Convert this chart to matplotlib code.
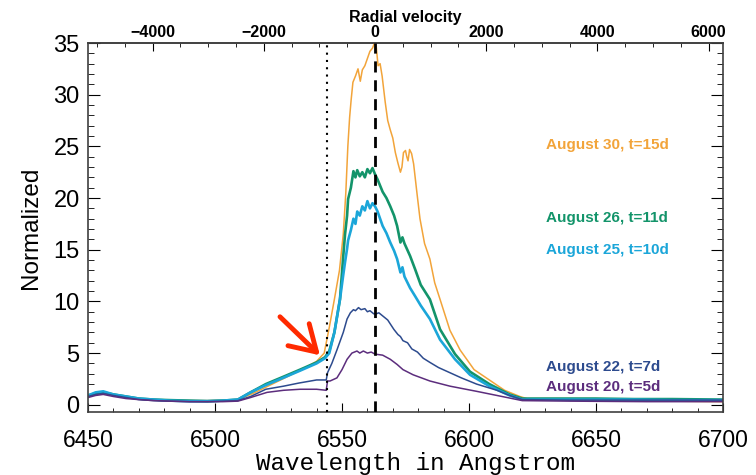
import numpy as np
import matplotlib.pyplot as plt
from matplotlib.ticker import MultipleLocator

C_KMS = 299792.458
HALPHA = 6563.0

# wavelength (Angstrom) and normalized flux
wl_aug30 = [6450, 6453, 6456, 6460, 6465, 6470, 6476, 6482, 6490, 6497, 6503, 6509,
            6512, 6515, 6520, 6525, 6530, 6535, 6540, 6543, 6545, 6547, 6549, 6550.5,
            6551.5, 6552.3, 6553, 6553.6, 6554.3, 6555.3, 6556.3, 6557.2, 6558, 6559,
            6560, 6561, 6562, 6562.8, 6563.5, 6564.2, 6565, 6565.8, 6567, 6568, 6569,
            6570, 6571, 6572, 6573, 6573.6, 6574.2, 6575, 6575.5, 6576, 6576.6, 6577.4,
            6578.2, 6579.5, 6580.7, 6582.5, 6584.6, 6586.5, 6588.6, 6592.5, 6596.5,
            6602, 6608, 6614, 6620, 6624, 6635, 6650, 6665, 6680, 6700]
fl_aug30 = [0.8, 1.0, 1.1, 1.0, 0.8, 0.6, 0.5, 0.45, 0.4, 0.4, 0.45, 0.5,
            0.8, 1.1, 1.7, 2.3, 2.9, 3.5, 4.2, 5.0, 7.5, 10.2, 13.0, 16.5,
            20.5, 25.0, 27.8, 29.5, 31.2, 31.8, 32.5, 31.3, 32.4, 32.8,
            33.5, 34.2, 34.5, 35.0, 34.6, 32.8, 33.0, 31.8, 29.3, 27.5, 26.6,
            25.8, 24.4, 23.4, 22.5, 23.0, 24.4, 24.6, 24.0, 23.6, 24.7, 24.3,
            23.3, 20.5, 18.0, 15.6, 14.1, 11.8, 10.2, 7.2, 5.3,
            3.4, 2.4, 1.4, 0.8, 0.5, 0.45, 0.4, 0.4, 0.35, 0.3]

wl_aug26 = [6450, 6453, 6456, 6460, 6465, 6470, 6476, 6482, 6490, 6497, 6503, 6509,
            6514, 6520, 6526.8, 6533.5, 6540, 6543.3, 6545, 6547, 6549.2, 6550.4,
            6551.2, 6552, 6552.4, 6553.5, 6554.5, 6555.3, 6556, 6557, 6558, 6559,
            6560, 6561, 6562, 6563, 6564, 6566, 6567.5, 6569, 6570.5, 6571.7, 6573,
            6573.8, 6574.6, 6576.8, 6578.8, 6581, 6584.6, 6588.6, 6594.5, 6600.4,
            6608, 6616, 6621, 6635, 6650, 6665, 6680, 6700]
fl_aug26 = [0.9, 1.1, 1.2, 1.0, 0.8, 0.6, 0.5, 0.45, 0.4, 0.35, 0.4, 0.5,
            1.2, 2.0, 2.7, 3.4, 4.1, 4.6, 5.2, 7.0, 10.2, 14.1,
            16.5, 18.3, 19.9, 21.0, 22.6, 22.0, 22.7, 22.1, 22.5, 22.0,
            22.8, 22.4, 22.9, 22.3, 21.8, 20.6, 20.0, 19.2, 18.3, 17.3, 15.7,
            16.2, 15.6, 14.4, 13.1, 11.6, 10.2, 7.3, 4.9, 3.2,
            2.0, 1.0, 0.6, 0.6, 0.6, 0.55, 0.55, 0.5]

wl_aug25 = wl_aug26
fl_aug25 = [0.9, 1.2, 1.3, 1.0, 0.8, 0.6, 0.5, 0.4, 0.35, 0.35, 0.4, 0.5,
            1.2, 1.9, 2.6, 3.3, 4.0, 4.5, 5.0, 7.0, 10.2, 12.4,
            13.8, 15.1, 15.9, 16.9, 18.0, 17.5, 18.7, 18.3, 19.2, 18.8,
            19.7, 19.0, 19.5, 19.2, 18.7, 17.3, 16.6, 15.7, 14.9, 14.1, 12.8,
            13.3, 12.4, 11.3, 10.5, 9.6, 8.3, 6.3, 4.4, 2.9,
            1.8, 0.9, 0.5, 0.5, 0.5, 0.5, 0.45, 0.45]

wl_aug22 = [6450, 6453, 6456, 6460, 6465, 6470, 6476, 6482, 6490, 6497, 6503, 6509,
            6514, 6520, 6527, 6533, 6540, 6543.8, 6544.3, 6546, 6548, 6550.5, 6552,
            6553.3, 6554.5, 6555.3, 6556.5, 6557.5, 6559, 6560, 6561, 6562.5, 6563.5,
            6564.5, 6566, 6568, 6570.4, 6572, 6573, 6574, 6575.8, 6577.5, 6579.7,
            6582, 6584.6, 6588, 6592.5, 6597, 6603, 6607, 6611, 6616, 6621, 6640,
            6670, 6700]
fl_aug22 = [0.8, 1.0, 1.1, 0.9, 0.7, 0.5, 0.4, 0.35, 0.3, 0.3, 0.35, 0.4,
            0.8, 1.5, 1.8, 2.1, 2.4, 2.4, 3.1, 4.0, 5.3, 7.0, 8.3,
            8.9, 9.2, 9.1, 9.4, 9.2, 9.3, 9.0, 9.1, 8.8, 8.8,
            8.9, 8.6, 8.2, 7.3, 6.8, 6.6, 6.2, 6.0, 5.4, 5.1,
            4.5, 4.1, 3.6, 3.1, 2.6, 2.0, 1.7, 1.4, 0.9, 0.5, 0.45,
            0.45, 0.45]

wl_aug20 = [6450, 6453, 6456, 6460, 6465, 6470, 6476, 6482, 6490, 6497, 6503, 6509,
            6514, 6520.5, 6527, 6533.5, 6540, 6543.8, 6544.3, 6545.3, 6548, 6550,
            6552, 6553.9, 6555.9, 6557, 6558.4, 6560, 6561.5, 6563, 6566, 6569,
            6571.7, 6574, 6578, 6584.6, 6592.5, 6603, 6611, 6621, 6640, 6670, 6700]
fl_aug20 = [0.7, 0.9, 1.0, 0.8, 0.6, 0.5, 0.4, 0.35, 0.3, 0.3, 0.3, 0.35,
            0.7, 1.2, 1.4, 1.5, 1.5, 1.4, 2.3, 2.3, 2.6, 3.4,
            4.4, 5.0, 5.2, 5.0, 5.2, 5.0, 5.1, 4.9, 4.8, 4.4,
            3.9, 3.4, 2.9, 2.3, 1.8, 1.3, 0.9, 0.4, 0.35, 0.3, 0.3]

labels = ['August 30, t=15d', 'August 26, t=11d', 'August 25, t=10d',
          'August 22, t=7d', 'August 20, t=5d']
colors = ['#F2A43A', '#13946A', '#1BA6D9', '#2D4B8E', '#5C2D7D']
label_y = [25.1, 18.1, 15.0, 3.7, 1.7]

dotted_wl = 6544.0

"""-------------------- PLOT ------------------"""
fig = plt.figure(figsize=(7.56, 4.75), dpi=100)
ax = fig.add_axes([88/756, 63/475, 635/756, 369/475])

series = [(wl_aug30, fl_aug30, 1.1), (wl_aug26, fl_aug26, 1.9),
          (wl_aug25, fl_aug25, 1.9), (wl_aug22, fl_aug22, 1.1),
          (wl_aug20, fl_aug20, 1.1)]
for (wl, fl, lw), c in zip(series, colors):
    ax.plot(wl, fl, color=c, lw=lw)

ax.axvline(HALPHA, color='k', lw=2, ls=(0, (4, 2.8)), zorder=5)
ax.axvline(dotted_wl, color='k', lw=1.5, ls=(0, (1, 2.5)), zorder=5)

for lab, y, c in zip(labels, label_y, colors):
    ax.text(6630.3, y, lab, color=c, fontsize=11, fontweight='bold',
            family='Liberation Sans', va='center', ha='left')

ax.annotate('', xy=(6542.1, 4.6), xytext=(6524.8, 8.7),
            arrowprops=dict(arrowstyle='->,head_length=0.9,head_width=0.55',
                            mutation_scale=20, lw=3.5, color='#FF2A00'))

ax.set_xlim(6450, 6700)
ax.set_ylim(-0.7, 35)

ax.xaxis.set_major_locator(MultipleLocator(50))
ax.xaxis.set_minor_locator(MultipleLocator(10))
ax.yaxis.set_major_locator(MultipleLocator(5))
ax.yaxis.set_minor_locator(MultipleLocator(1))
ax.tick_params(axis='x', which='both', direction='in', top=False, bottom=True,
               labelsize=16.5, pad=12)
ax.tick_params(axis='x', which='major', length=6.5)
ax.tick_params(axis='x', which='minor', length=3)
ax.tick_params(axis='y', which='both', direction='in', left=True, right=True,
               labelsize=17, pad=6)
ax.tick_params(axis='y', which='major', length=8.5)
ax.tick_params(axis='y', which='minor', length=4)
for t in ax.get_xticklabels() + ax.get_yticklabels():
    t.set_family('Liberation Sans')
for s in ax.spines.values():
    s.set_color('#404040')
    s.set_linewidth(1.2)

ax.set_xlabel('Wavelength in Angstrom', family='Liberation Mono', fontsize=17.5)
ax.xaxis.set_label_coords(0.515, -0.108)
ax.set_ylabel('Normalized', family='Liberation Sans', fontsize=17.5, labelpad=8)

# top axis: radial velocity of H-alpha
def to_vel(w):
    return (np.asarray(w) / HALPHA - 1.0) * C_KMS

def to_wl(v):
    return (np.asarray(v) / C_KMS + 1.0) * HALPHA

top = ax.secondary_xaxis('top', functions=(to_vel, to_wl))
top.set_xticks([-4000, -2000, 0, 2000, 4000, 6000])
top.xaxis.set_minor_locator(MultipleLocator(500))
top.tick_params(which='both', direction='in', labelsize=11.5, pad=2)
top.tick_params(which='major', length=6)
top.tick_params(which='minor', length=3)
for t in top.get_xticklabels():
    t.set_family('Liberation Sans')
    t.set_fontweight('bold')
top.spines['top'].set_color('#404040')
top.spines['top'].set_linewidth(1.2)
top.set_xlabel('Radial velocity', family='Liberation Sans', fontweight='bold',
               fontsize=11.5, labelpad=2)

fig.savefig('out.png', dpi=100)
